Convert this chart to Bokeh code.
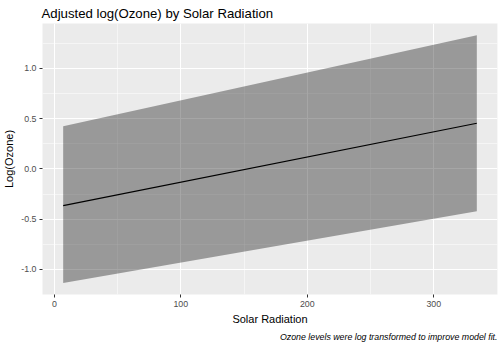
from bokeh.plotting import figure
from bokeh.models import FixedTicker, NumeralTickFormatter, Title, Range1d
from bokeh.embed import file_html
from bokeh.resources import INLINE

# Data
solar = [7, 334]
fit = [-0.365, 0.455]
lower = [-1.135, -0.42]
upper = [0.425, 1.33]

x_ticks = [0, 100, 200, 300]
x_minor = [-50, 50, 150, 250, 350]
y_ticks = [-1.0, -0.5, 0.0, 0.5, 1.0]
y_minor = [-1.25, -0.75, -0.25, 0.25, 0.75, 1.25]

FONT = "Liberation Sans"

p = figure(width=504, height=352, output_backend="svg", toolbar_location=None,
           x_range=Range1d(-9.35, 350.35), y_range=Range1d(-1.25, 1.448),
           min_border_left=40, min_border_right=7, min_border_top=23, min_border_bottom=58)

p.title.text = "Adjusted log(Ozone) by Solar Radiation"
p.title.text_font = FONT
p.title.text_font_size = "13.2px"
p.title.text_font_style = "normal"
p.title.text_color = "black"
p.title.offset = -1
p.title.standoff = 6

p.background_fill_color = "#EBEBEB"
p.border_fill_color = "white"
p.outline_line_color = None

p.varea(x=solar, y1=lower, y2=upper, fill_color="black", fill_alpha=0.35)
p.line(x=solar, y=fit, line_color="black", line_width=1.1)

p.xaxis.ticker = FixedTicker(ticks=x_ticks, minor_ticks=x_minor)
p.yaxis.ticker = FixedTicker(ticks=y_ticks, minor_ticks=y_minor)
p.yaxis.formatter = NumeralTickFormatter(format="0.0")

for ax in (p.xaxis[0], p.yaxis[0]):
    ax.axis_line_color = None
    ax.major_tick_line_color = "#333333"
    ax.major_tick_out = 3
    ax.major_tick_in = 0
    ax.minor_tick_line_color = None
    ax.major_label_text_font = FONT
    ax.major_label_text_font_size = "8.8px"
    ax.major_label_text_color = "#4D4D4D"
    ax.axis_label_text_font = FONT
    ax.axis_label_text_font_size = "11px"
    ax.axis_label_text_font_style = "normal"
    ax.axis_label_text_color = "black"
    ax.major_label_standoff = 2

p.xaxis.axis_label = "Solar Radiation"
p.yaxis.axis_label = "Log(Ozone)"
p.xaxis.axis_label_standoff = 3
p.yaxis.axis_label_standoff = 3

for g in (p.xgrid[0], p.ygrid[0]):
    g.grid_line_color = "white"
    g.grid_line_width = 1.07
    g.minor_grid_line_color = "white"
    g.minor_grid_line_width = 0.53

cap = Title(text="Ozone levels were log transformed to improve model fit.",
            align="right", text_font=FONT, text_font_size="8.8px",
            text_font_style="italic", text_color="black", offset=0, standoff=4)
p.add_layout(cap, "below")

open("out.html", "w").write(file_html(p, INLINE))
